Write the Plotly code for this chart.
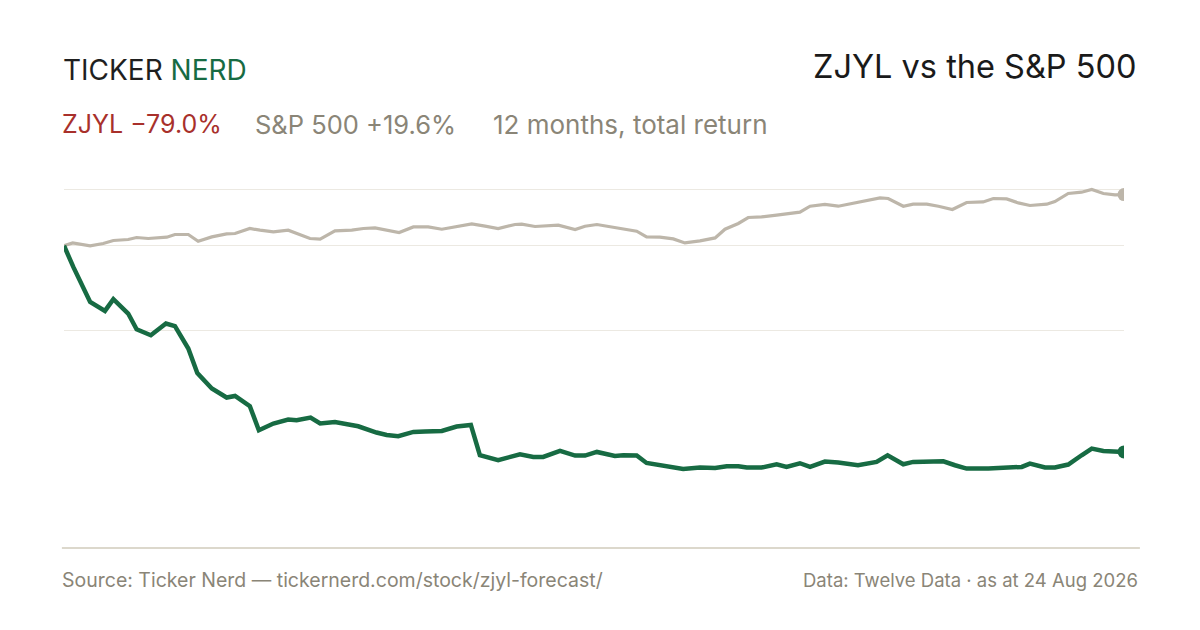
import plotly.graph_objects as go

# ---- data (day offset within the 12-month window, total return %) ----
spx_days = [0, 3.0, 9.0, 13.5, 17.0, 22.1, 25.0, 29.0, 35.4, 38.2, 42.8, 46.2, 50.9, 56.0, 58.9,
            64.0, 67.5, 72.1, 77.2, 80.7, 84.7, 88.2, 93.3, 99.1, 103.1, 107.1, 111.1, 115.4,
            120.3, 125.4, 130.1, 135.8, 140.4, 145.0, 149.5, 155.3, 157.6, 162.2, 170.2, 176.0,
            179.4, 183.5, 188.6, 192.6, 197.2, 200.6, 205.2, 209.8, 213.8, 219.0, 224.2, 227.6,
            232.2, 235.6, 240.2, 245.4, 249.4, 253.4, 256.9, 262.0, 266.6, 274.8, 281.0, 283.8,
            289.0, 292.4, 297.1, 301.1, 305.9, 310.8, 316.5, 320.0, 324.6, 328.6, 332.6, 338.4,
            341.2, 345.8, 350.4, 353.9, 357.9, 361.9, 365]
spx_ret = [0, 1.07, -0.08, 0.84, 1.99, 2.38, 3.14, 2.76, 3.26, 4.29, 4.29, 1.72, 3.37, 4.52, 4.67,
           6.59, 5.94, 5.29, 5.94, 4.41, 2.76, 2.49, 5.67, 5.94, 6.59, 6.82, 5.94, 5.06,
           7.20, 7.20, 6.32, 7.59, 8.35, 7.47, 6.59, 8.12, 8.24, 7.36, 7.85, 6.21,
           7.47, 8.12, 7.20, 6.21, 5.56, 3.37, 3.26, 2.61, 1.07, 1.84, 2.99, 6.32,
           8.51, 10.80, 11.03, 11.69, 12.34, 12.84, 15.13, 15.79, 15.13, 16.86, 18.31, 18.08,
           15.13, 15.90, 15.90, 15.13, 13.87, 16.55, 16.78, 18.08, 17.93, 16.40, 15.40, 15.90,
           16.93, 20.00, 20.50, 21.53, 20.00, 19.46, 19.6]

zjyl_days = [0, 3.2, 9.0, 14.1, 17.0, 22.1, 25.0, 29.9, 35.1, 38.2, 42.8, 45.9, 50.9, 56.0, 58.9,
             64.0, 67.1, 72.1, 77.2, 80.1, 84.9, 88.2, 93.3, 97.9, 101.3, 107.6, 111.1, 115.1,
             120.3, 124.3, 130.1, 135.2, 140.1, 143.2, 149.5, 157.0, 161.6, 165.0, 170.8, 176.0,
             179.4, 183.5, 189.7, 192.6, 197.2, 200.6, 205.2, 208.6, 213.2, 219.0, 224.2, 228.2,
             232.2, 235.1, 240.2, 245.4, 248.8, 253.4, 256.9, 262.0, 266.6, 273.4, 279.8, 283.6,
             289.0, 292.4, 297.1, 302.8, 306.8, 310.8, 318.3, 324.0, 329.8, 332.6, 337.8, 341.2,
             345.8, 350.4, 353.9, 357.9, 361.9, 365]
zjyl_ret = [0, -8.12, -21.53, -24.98, -20.50, -25.98, -31.99, -34.29, -29.81, -30.84, -39.39, -48.74,
            -54.71, -58.16, -57.55, -61.49, -70.69, -68.12, -66.59, -66.86, -65.82, -68.12, -67.51,
            -68.39, -69.16, -71.57, -72.49, -72.99, -71.34, -71.19, -70.96, -69.27, -68.66, -80.27,
            -82.18, -79.89, -80.92, -80.92, -78.62, -80.38, -80.38, -79.00, -80.53, -80.27, -80.38,
            -83.22, -83.98, -84.75, -85.52, -84.98, -85.13, -84.48, -84.48, -84.98, -84.98, -83.72,
            -84.75, -83.33, -84.75, -82.68, -83.07, -84.10, -82.83, -80.27, -83.72, -82.83, -82.83,
            -82.57, -84.10, -85.36, -85.36, -85.13, -84.75, -83.45, -84.98, -84.98, -83.83, -80.27,
            -77.70, -78.62, -79.00, -79.0]

grid_vals = [21.5, 0, -32.4]

title_text = "ZJYL vs the S&P 500"
zjyl_label = "ZJYL \u221279.0%"
spx_label = "S&P 500 +19.6%"
period_label = "12 months, total return"
source_text = "Source: Ticker Nerd \u2014 tickernerd.com/stock/zjyl-forecast/"
data_text = "Data: Twelve Data \u00b7 as at 24 Aug 2026"

GREEN = "#176b43"
SPX = "#bdb6aa"
RED = "#a8302b"
GREY = "#8a8577"
FONT = "Inter"

fig = go.Figure()
fig.add_trace(go.Scatter(x=spx_days, y=spx_ret, mode="lines",
                         line=dict(color=SPX, width=3.2), hoverinfo="skip"))
fig.add_trace(go.Scatter(x=zjyl_days, y=zjyl_ret, mode="lines",
                         line=dict(color=GREEN, width=4.5), hoverinfo="skip"))
fig.add_trace(go.Scatter(x=[spx_days[-1]], y=[spx_ret[-1]], mode="markers",
                         marker=dict(color=SPX, size=13), hoverinfo="skip"))
fig.add_trace(go.Scatter(x=[zjyl_days[-1]], y=[zjyl_ret[-1]], mode="markers",
                         marker=dict(color=GREEN, size=13), hoverinfo="skip"))

fig.update_layout(
    width=1200, height=630,
    margin=dict(l=64, r=76, t=170, b=82),
    paper_bgcolor="white", plot_bgcolor="white",
    showlegend=False,
    font=dict(family=FONT),
    xaxis=dict(range=[0, 365], showgrid=False, zeroline=False, showticklabels=False,
               showline=False, ticks=""),
    yaxis=dict(range=[-115.8, 29.0], tickvals=grid_vals, showticklabels=False,
               gridcolor="#ece9e2", gridwidth=1, zeroline=False, showline=False, ticks=""),
)

fig.add_shape(type="line", xref="paper", yref="paper", x0=-0.002, x1=1.015, y0=0, y1=0,
              line=dict(color="#dcd8cc", width=2))

ann = []
ann.append(dict(text='<span style="color:#1f1f1f">TICKER</span> <span style="color:%s">NERD</span>' % GREEN,
                x=61, y=70, font=dict(size=28, family=FONT), xanchor="left"))
ann.append(dict(text=title_text, x=1139, y=67, font=dict(size=32.5, color="#1a1a1a", family=FONT),
                xanchor="right"))
ann.append(dict(text=zjyl_label, x=60, y=124, font=dict(size=25, color=RED, family=FONT), xanchor="left"))
ann.append(dict(text=spx_label, x=253, y=124, font=dict(size=25.5, color=GREY, family=FONT), xanchor="left"))
ann.append(dict(text=period_label, x=491, y=124, font=dict(size=26, color=GREY, family=FONT), xanchor="left"))
ann.append(dict(text=source_text, x=60, y=580, font=dict(size=19.5, color=GREY, family=FONT), xanchor="left"))
ann.append(dict(text=data_text, x=1140, y=580, font=dict(size=18.5, color=GREY, family=FONT), xanchor="right"))

for a in ann:
    fig.add_annotation(xref="paper", yref="paper", showarrow=False,
                       x=(a["x"] - 64) / 1060, y=(548 - a["y"]) / 378,
                       xanchor=a["xanchor"], yanchor="middle",
                       text=a["text"], font=a["font"])

fig.write_html("out.html", config={"displayModeBar": False},
               post_script="document.body.style.margin='0';document.body.style.padding='0';")
